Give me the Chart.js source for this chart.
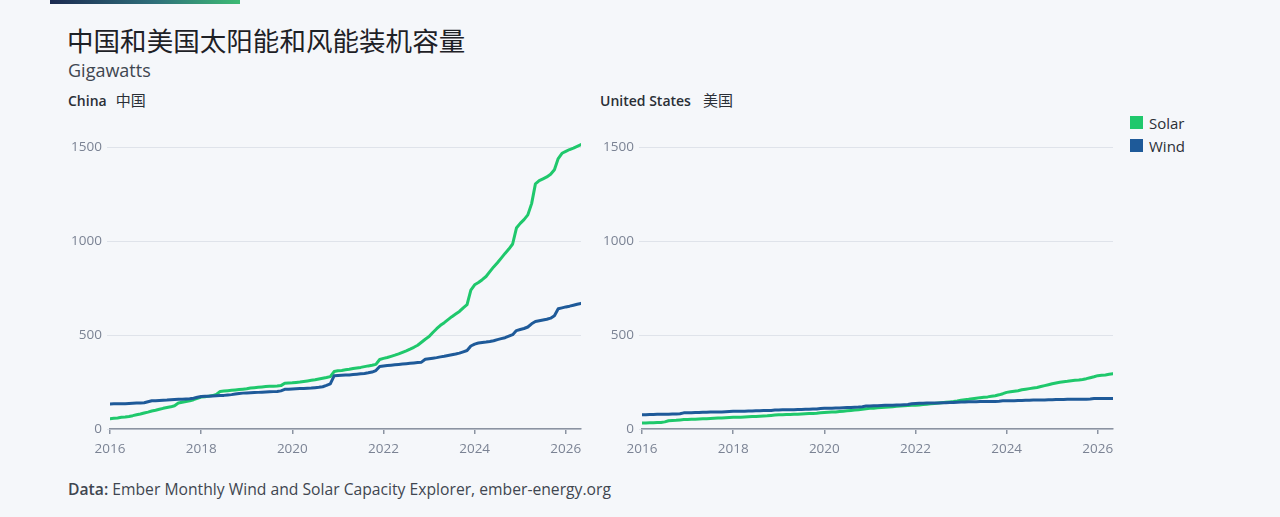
<!DOCTYPE html>
<html>
<head>
<meta charset="utf-8">
<script src="https://cdn.jsdelivr.net/npm/chart.js@4.4.1/dist/chart.umd.min.js"></script>
<style>
  html, body { margin: 0; padding: 0; }
  body { width: 1280px; height: 517px; background: #f5f7fa; position: relative; overflow: hidden; font-family: 'Open Sans', 'Noto Sans', sans-serif; }
  .bar { position: absolute; left: 50px; top: 0; width: 190px; height: 4px; background: linear-gradient(90deg, #1b2a50, #2f6f7a 55%, #3dbb74); }
  .title { position: absolute; left: 67px; top: 20px; font-family: 'Noto Sans CJK SC', sans-serif; font-size: 26.5px; color: #1e2126; letter-spacing: 0.05px; }
  .sub { position: absolute; left: 68px; top: 58px; font-size: 18px; color: #3f4650; }
  .panel { position: absolute; top: 89px; font-size: 14px; color: #2a2f36; }
  .panel b { font-weight: 600; }
  .panel span { font-family: 'Noto Sans CJK SC', sans-serif; font-size: 15px; margin-left: 9px; }
  canvas { position: absolute; }
  .legend { position: absolute; left: 1130px; top: 111px; font-size: 15px; color: #2a2f36; }
  .legend div { height: 23px; display: flex; align-items: center; }
  .legend i { display: inline-block; width: 13px; height: 13px; margin-right: 6px; }
  .foot { position: absolute; left: 68px; top: 478px; font-size: 15.7px; color: #3f4650; }
  .foot b { font-weight: 600; }
</style>
</head>
<body>
<div class="bar"></div>
<div class="title">中国和美国太阳能和风能装机容量</div>
<div class="sub">Gigawatts</div>
<div class="panel" style="left:68px"><b>China</b><span>中国</span></div>
<div class="panel" style="left:600px"><b>United States</b><span style="margin-left:12px">美国</span></div>
<canvas id="cn" width="530" height="340" style="left:55px;top:125px;width:530px;height:340px"></canvas>
<canvas id="us" width="530" height="340" style="left:587px;top:125px;width:530px;height:340px"></canvas>
<div class="legend">
  <div><i style="background:#1fc86c"></i>Solar</div>
  <div><i style="background:#1e5a99"></i>Wind</div>
</div>
<div class="foot"><b>Data:</b> Ember Monthly Wind and Solar Capacity Explorer, ember-energy.org</div>
<script>
// Monthly data, Jan 2016 .. May 2026 (125 months), gigawatts
const startYear = 2016;
const xTickYears = [2016, 2018, 2020, 2022, 2024, 2026];
const yTickValues = [0, 500, 1000, 1500];

const chinaSolar = [
  55,57,59,62,64,67,71,76,80,85,90,96,
  100,105,110,114,118,124,138,142,146,150,156,163,
  170,172,175,178,184,200,202,204,206,208,210,212,
  214,218,220,222,224,226,227,228,229,231,244,245,
  246,248,250,253,256,259,262,266,270,274,279,306,
  310,312,315,318,322,325,328,332,336,339,344,370,
  376,381,387,393,400,408,416,425,435,446,462,478,
  492,514,534,552,566,582,598,612,626,645,662,740,
  768,780,795,812,838,863,885,910,935,958,985,1070,
  1095,1115,1140,1200,1305,1322,1332,1342,1356,1380,1440,1468,
  1478,1488,1496,1505,1514
];
const chinaWind = [
  133,134,134,135,135,136,137,138,139,140,145,150,
  151,152,153,154,156,157,158,159,160,161,164,169,
  173,174,175,176,177,178,179,181,183,186,189,191,
  192,193,194,195,196,197,198,199,200,203,211,212,
  213,214,215,216,217,218,220,222,225,232,240,283,
  285,286,287,288,290,292,294,296,299,303,311,333,
  336,338,340,342,344,346,348,350,352,354,356,371,
  374,377,380,384,387,391,395,399,404,411,418,442,
  452,458,461,463,466,470,476,481,486,494,502,524,
  530,535,543,560,572,576,580,584,590,603,640,645,
  650,654,659,664,669
];
const usSolar = [
  32,32,33,33,34,35,38,44,45,46,48,50,
  51,52,52,53,54,55,56,57,58,59,60,61,
  62,63,63,64,65,66,67,68,69,70,72,74,
  76,76,77,77,78,79,80,81,82,83,84,86,
  88,89,90,91,93,95,97,99,101,103,105,108,
  110,111,113,114,116,117,119,121,123,124,125,126,
  127,128,130,132,134,136,138,140,142,144,146,149,
  153,156,158,161,164,167,169,171,174,177,182,188,
  195,198,201,204,209,212,215,218,221,226,231,236,
  241,245,249,252,254,257,259,261,264,268,273,278,
  284,286,288,291,294
];
const usWind = [
  76,76,77,77,78,78,79,79,80,80,81,86,
  87,87,88,88,89,89,90,90,91,91,92,93,
  94,94,95,95,96,96,97,97,98,98,99,101,
  101,102,102,103,103,104,104,105,105,106,107,109,
  110,110,111,112,112,113,114,115,116,117,119,122,
  123,124,124,125,126,127,127,128,128,129,130,134,
  136,137,137,138,138,139,139,140,140,141,141,143,
  144,144,145,145,145,146,146,146,147,147,148,150,
  150,151,151,152,152,153,153,154,154,155,155,156,
  156,157,157,157,158,158,158,159,159,159,160,162,
  162,162,163,163,163
];

const solarColor = '#1fc86c';
const windColor = '#1e5a99';
const monthX = chinaSolar.map((_, i) => startYear + i / 12);

Chart.defaults.font.family = "'Open Sans', 'Noto Sans', sans-serif";
Chart.defaults.font.size = 13;
Chart.defaults.color = '#7b8394';

function toXY(arr) { return arr.map((v, i) => ({ x: monthX[i], y: v })); }

function makeChart(id, solar, wind) {
  return new Chart(document.getElementById(id), {
    type: 'line',
    data: {
      datasets: [
        { label: 'Wind', data: toXY(wind), borderColor: windColor, borderWidth: 3, pointRadius: 0, tension: 0, borderJoinStyle: 'round', borderCapStyle: 'round' },
        { label: 'Solar', data: toXY(solar), borderColor: solarColor, borderWidth: 3, pointRadius: 0, tension: 0, borderJoinStyle: 'round', borderCapStyle: 'round' }
      ]
    },
    options: {
      responsive: false,
      animation: false,
      devicePixelRatio: 1,
      layout: { padding: { top: 11, right: 4, left: 0, bottom: 0 } },
      plugins: { legend: { display: false }, tooltip: { enabled: false } },
      scales: {
        x: {
          type: 'linear',
          min: startYear,
          max: monthX[monthX.length - 1],
          afterBuildTicks: s => { s.ticks = xTickYears.map(v => ({ value: v })); },
          afterFit: s => { s.height = 36; s.paddingLeft = 0; s.paddingRight = 0; },
          ticks: { callback: v => String(v), padding: 7, maxRotation: 0, autoSkip: false, font: { size: 13.5 } },
          grid: { drawOnChartArea: false, drawTicks: true, tickLength: 5, color: '#8b93a1', lineWidth: 1.5 },
          border: { display: true, color: '#8b93a1', width: 1.5 }
        },
        y: {
          min: 0,
          max: 1560,
          afterBuildTicks: s => { s.ticks = yTickValues.map(v => ({ value: v })); },
          afterFit: s => { s.width = 55; s.paddingTop = 0; s.paddingBottom = 0; },
          ticks: { padding: 5, callback: v => String(v), font: { size: 13.5 } },
          grid: { color: '#dfe3ea', lineWidth: 1, drawTicks: true, tickLength: 3 },
          border: { display: false }
        }
      }
    }
  });
}

makeChart('cn', chinaSolar, chinaWind);
makeChart('us', usSolar, usWind);
</script>
</body>
</html>
